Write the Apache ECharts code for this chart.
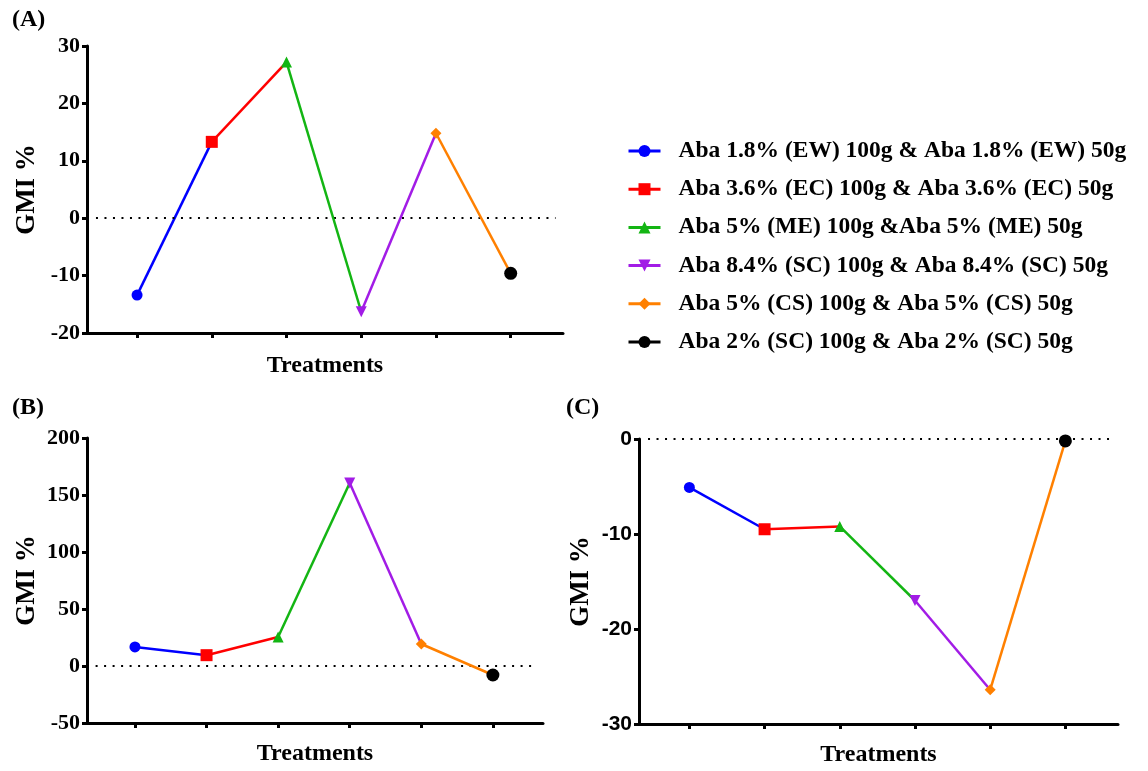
<!DOCTYPE html>
<html>
<head>
<meta charset="utf-8">
<script src="https://cdn.jsdelivr.net/npm/echarts@6/dist/echarts.min.js"></script>
<style>
html,body{margin:0;padding:0;background:#fff;}
#chart{width:1148px;height:771px;}
</style>
</head>
<body>
<div id="chart"></div>
<script>
// ---- data ----
const treatments = [
  'Aba 1.8% (EW) 100g & Aba 1.8% (EW) 50g',
  'Aba 3.6% (EC) 100g & Aba 3.6% (EC) 50g',
  'Aba 5% (ME) 100g &Aba 5% (ME) 50g',
  'Aba 8.4% (SC) 100g & Aba 8.4% (SC) 50g',
  'Aba 5% (CS) 100g & Aba 5% (CS) 50g',
  'Aba 2% (SC) 100g & Aba 2% (SC) 50g'
];
const positions = [1, 2, 3, 4, 5, 6];
const valuesA = [-13.4, 13.3, 27.2, -16.3, 14.8, -9.6];
const valuesB = [16.7, 9.5, 25.5, 160.5, 19.3, -7.9];
const valuesC = [-5.1, -9.5, -9.2, -17.0, -26.4, -0.2];
const panelTitles = ['(A)', '(B)', '(C)'];
const yTicksA = [-20, -10, 0, 10, 20, 30];
const yTicksB = [-50, 0, 50, 100, 150, 200];
const yTicksC = [-30, -20, -10, 0];
const xTitle = 'Treatments';
const yTitle = 'GMI %';
const zeroLineRange = [0.45, 6.6];

// ---- styles ----
const colors = ['#0000FF', '#FF0000', '#13B513', '#A21CE6', '#FF8000', '#000000'];
const symbols = ['circle', 'rect', 'triangle', 'path://M0,0 L10,0 L5,10 Z', 'diamond', 'circle'];
const symbolSizes = [11, 12, 11, 11, 11, 13];
const serif = '"Liberation Serif", "Times New Roman", serif';
const sans = '"Liberation Sans", Arial, sans-serif';

const panels = [
  {vals: valuesA, ticks: yTicksA, grid: {left: 87, top: 46, width: 476, height: 287}, nameGap: 21, yNameGap: 46, labelFont: serif, labelSize: 22},
  {vals: valuesB, ticks: yTicksB, grid: {left: 87, top: 438, width: 456, height: 285}, nameGap: 19, yNameGap: 46, labelFont: serif, labelSize: 22},
  {vals: valuesC, ticks: yTicksC, grid: {left: 639, top: 439, width: 479, height: 285}, nameGap: 19, yNameGap: 44, labelFont: sans, labelSize: 21}
];

const grids = [], xAxes = [], yAxes = [], series = [];
panels.forEach((p, pi) => {
  grids.push(Object.assign({containLabel: false}, p.grid));
  xAxes.push({
    type: 'value', gridIndex: pi, min: 0.33, max: 6.7,
    axisLine: {show: true, onZero: false, lineStyle: {color: '#000', width: 3}},
    axisTick: {show: true, customValues: positions, length: 5, lineStyle: {color: '#000', width: 3}},
    axisLabel: {show: false},
    splitLine: {show: false},
    name: xTitle, nameLocation: 'middle', nameGap: p.nameGap,
    nameTextStyle: {fontFamily: serif, fontWeight: 'bold', fontSize: 24, color: '#000'}
  });
  const tk = p.ticks;
  yAxes.push({
    type: 'value', gridIndex: pi, min: tk[0], max: tk[tk.length - 1], interval: tk[1] - tk[0],
    axisLine: {show: true, onZero: false, lineStyle: {color: '#000', width: 3}},
    axisTick: {show: true, length: 5, lineStyle: {color: '#000', width: 3}},
    axisLabel: {margin: 7, fontFamily: p.labelFont, fontWeight: 'bold', fontSize: p.labelSize, color: '#000'},
    splitLine: {show: false},
    name: yTitle, nameLocation: 'middle', nameRotate: 90, nameGap: p.yNameGap,
    nameTextStyle: {fontFamily: serif, fontWeight: 'bold', fontSize: 27, color: '#000'}
  });
  treatments.forEach((name, i) => {
    const data = [{value: [positions[i], p.vals[i]]}];
    if (i < treatments.length - 1) {
      data.push({value: [positions[i + 1], p.vals[i + 1]], symbol: 'none'});
    }
    const s = {
      type: 'line', name: name, xAxisIndex: pi, yAxisIndex: pi,
      data: data,
      symbol: symbols[i], symbolSize: symbolSizes[i], showAllSymbol: true,
      itemStyle: {color: colors[i]},
      lineStyle: {color: colors[i], width: 2.5},
      z: 3 + i,
      animation: false
    };
    if (i === 0) {
      s.markLine = {
        silent: true, symbol: 'none', animation: false,
        label: {show: false},
        lineStyle: {color: '#000', width: 2.2, type: [2, 6.5]},
        data: [[{coord: [zeroLineRange[0], 0]}, {coord: [zeroLineRange[1], 0]}]]
      };
    }
    series.push(s);
  });
});

const titleGraphics = [
  {pos: [12, 8]}, {pos: [12, 396]}, {pos: [566, 396]}
].map((g, i) => ({
  type: 'text', left: g.pos[0], top: g.pos[1],
  style: {text: panelTitles[i], font: 'bold 24px ' + serif, fill: '#000'}
}));

const chart = echarts.init(document.getElementById('chart'), null, {renderer: 'canvas'});
chart.setOption({
  backgroundColor: '#fff',
  animation: false,
  grid: grids,
  xAxis: xAxes,
  yAxis: yAxes,
  legend: {
    data: treatments,
    orient: 'vertical',
    left: 622, top: 134,
    itemWidth: 32, itemHeight: 15, itemGap: 14.2,
    lineStyle: {width: 3},
    textStyle: {fontFamily: serif, fontWeight: 'bold', fontSize: 23.5, color: '#000', lineHeight: 24, padding: [0, 0, 0, 13]},
    selectedMode: false
  },
  graphic: titleGraphics,
  series: series
});
</script>
</body>
</html>
